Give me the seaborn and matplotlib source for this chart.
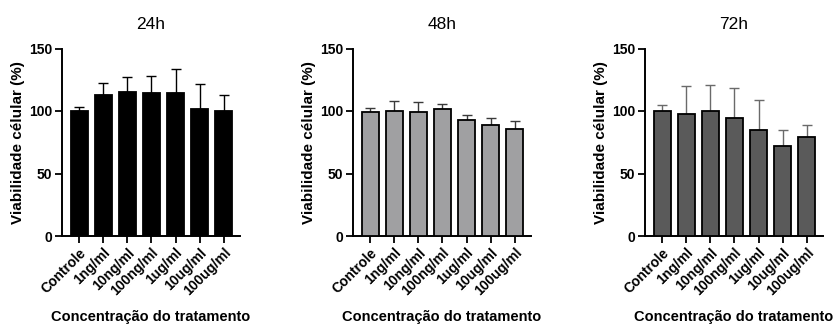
import matplotlib
matplotlib.use("Agg")
import matplotlib.pyplot as plt
import seaborn as sns
import pandas as pd
import numpy as np

sns.set_style("ticks")
plt.rcParams["font.family"] = ["Liberation Sans", "DejaVu Sans"]
plt.rcParams["text.color"] = "black"
plt.rcParams["axes.labelcolor"] = "black"
plt.rcParams["xtick.color"] = "black"
plt.rcParams["ytick.color"] = "black"

categories = ["Controle", "1ng/ml", "10ng/ml", "100ng/ml", "1ug/ml", "10ug/ml", "100ug/ml"]
times = ["24h", "48h", "72h"]

mean_24h = [100.0, 112.7, 115.4, 114.8, 114.4, 102.0, 100.3]
sd_24h = [3.4, 9.9, 12.0, 13.6, 19.1, 19.5, 12.7]

mean_48h = [99.6, 100.4, 99.4, 101.8, 93.0, 89.0, 85.8]
sd_48h = [2.7, 7.6, 8.0, 4.2, 4.0, 5.3, 6.2]

mean_72h = [100.0, 97.4, 100.4, 94.5, 84.6, 72.4, 79.0]
sd_72h = [4.6, 23.0, 20.3, 23.9, 24.0, 12.6, 10.0]

means = [mean_24h, mean_48h, mean_72h]
sds = [sd_24h, sd_48h, sd_72h]
fills = ["#000000", "#a0a0a2", "#5a5a5a"]
err_colors = ["#000000", "#3a3a3a", "#6a6a6a"]

fig = plt.figure(figsize=(8.34, 3.27), dpi=100)
W, H = 834, 327
lefts = [62, 353, 645]
ax_w, ax_top, ax_bottom = 178, 48.5, 236

for i, t in enumerate(times):
    ax = fig.add_axes([lefts[i] / W, (H - ax_bottom) / H, ax_w / W, (ax_bottom - ax_top) / H])
    df = pd.DataFrame({"Concentração": categories, "Viabilidade": means[i], "sd": sds[i]})
    sns.barplot(data=df, x="Concentração", y="Viabilidade", ax=ax, color=fills[i],
                edgecolor="black", linewidth=1.3, width=0.69, errorbar=None,
                saturation=1, zorder=3)
    xs = np.arange(len(categories))
    ax.errorbar(xs, df["Viabilidade"], yerr=[np.zeros(len(xs)), df["sd"]], fmt="none",
                ecolor=err_colors[i], elinewidth=1.0, capsize=3.5, capthick=1.0, zorder=2)
    ax.set_xlim(-0.72, 6.68)
    ax.set_ylim(0, 150)
    ax.set_yticks([0, 50, 100, 150])
    sns.despine(ax=ax)
    for s in ["left", "bottom"]:
        ax.spines[s].set_linewidth(1.4)
        ax.spines[s].set_color("black")
    ax.tick_params(axis="both", width=1.3, length=5, color="black", labelsize=10, pad=2)
    ax.set_xticks(xs)
    ax.set_xticklabels(categories, rotation=45, ha="right", rotation_mode="anchor",
                       fontweight="bold")
    for lab in ax.get_yticklabels():
        lab.set_fontweight("bold")
    ax.set_xlabel("Concentração do tratamento", fontsize=10.5, fontweight="bold", labelpad=8)
    ax.set_ylabel("Viabilidade célular (%)", fontsize=11, fontweight="bold", labelpad=3)
    ax.set_title(t, fontsize=12.5, pad=14, color="black")

fig.savefig("out.png", dpi=100)
